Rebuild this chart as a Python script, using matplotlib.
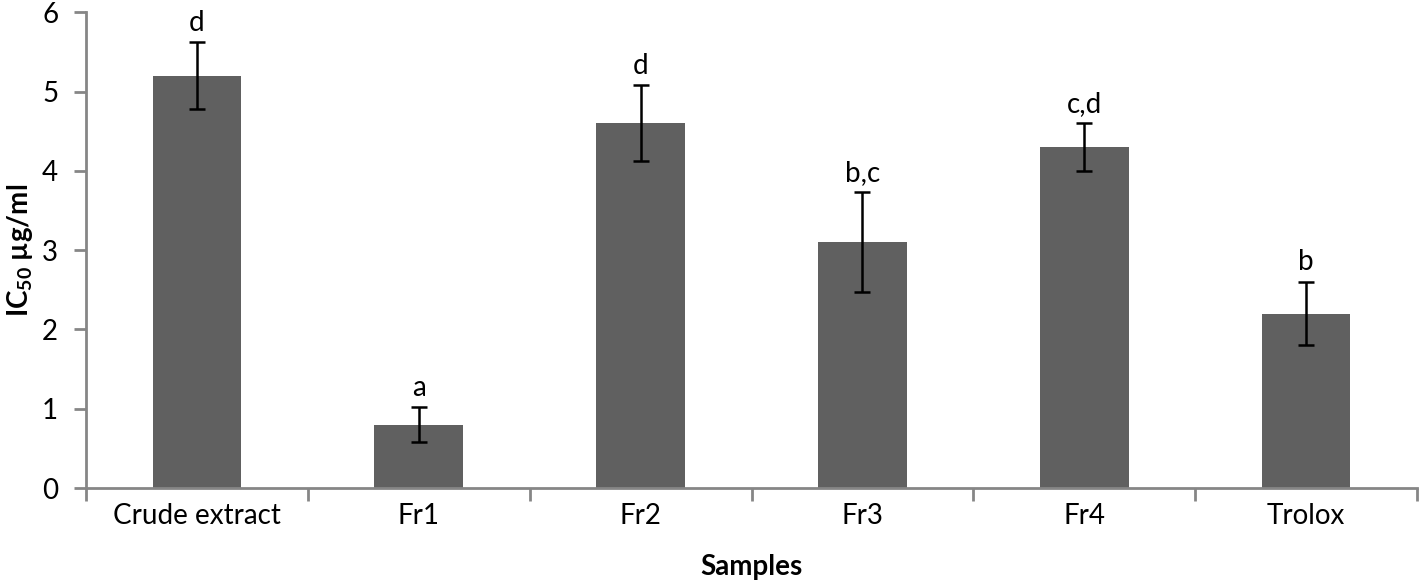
import matplotlib.pyplot as plt
import numpy as np

plt.rcParams["font.family"] = ["Lato", "DejaVu Sans"]
plt.rcParams["mathtext.fontset"] = "custom"
plt.rcParams["mathtext.rm"] = "Lato:bold"
plt.rcParams["mathtext.default"] = "rm"

samples = ["Crude extract", "Fr1", "Fr2", "Fr3", "Fr4", "Trolox"]
ic50 = [5.2, 0.8, 4.6, 3.1, 4.3, 2.2]
errors = [0.42, 0.22, 0.48, 0.63, 0.30, 0.40]
letters = ["d", "a", "d", "b,c", "c,d", "b"]

fig = plt.figure(figsize=(14.19, 5.82), dpi=100)
ax = fig.add_axes([0.0606, 0.1615, 0.938, 0.8175])

x = np.arange(len(samples))
ax.bar(x, ic50, width=0.4, color="#606060", zorder=2)
ax.errorbar(x, ic50, yerr=errors, fmt="none", ecolor="black",
            elinewidth=1.8, capsize=6, capthick=1.8, zorder=3)

for xi, v, e, lab in zip(x, ic50, errors, letters):
    ax.text(xi, v + e + 0.08, lab, ha="center", va="bottom", fontsize=20)

ax.set_xlim(-0.5, len(samples) - 0.5)
ax.set_ylim(0, 6)
ax.set_yticks(range(0, 7))
ax.set_xticks(x)
ax.set_xticklabels(samples, fontsize=20)
ax.tick_params(axis="x", length=0, pad=11)
ax.set_xticks(np.arange(-0.5, len(samples)), minor=True)
ax.tick_params(axis="x", which="minor", length=9, width=2, color="#868686")
ax.tick_params(axis="y", labelsize=20, length=9, width=2, color="#868686", pad=11)

for s in ["top", "right"]:
    ax.spines[s].set_visible(False)
for s in ["left", "bottom"]:
    ax.spines[s].set_color("#868686")
    ax.spines[s].set_linewidth(2)

ax.set_xlabel("Samples", fontsize=20, fontweight="bold", labelpad=18)
ax.set_ylabel(r"IC$_{50}$ µg/ml", fontsize=20, fontweight="bold", labelpad=5)

fig.savefig("out.png", dpi=100)
